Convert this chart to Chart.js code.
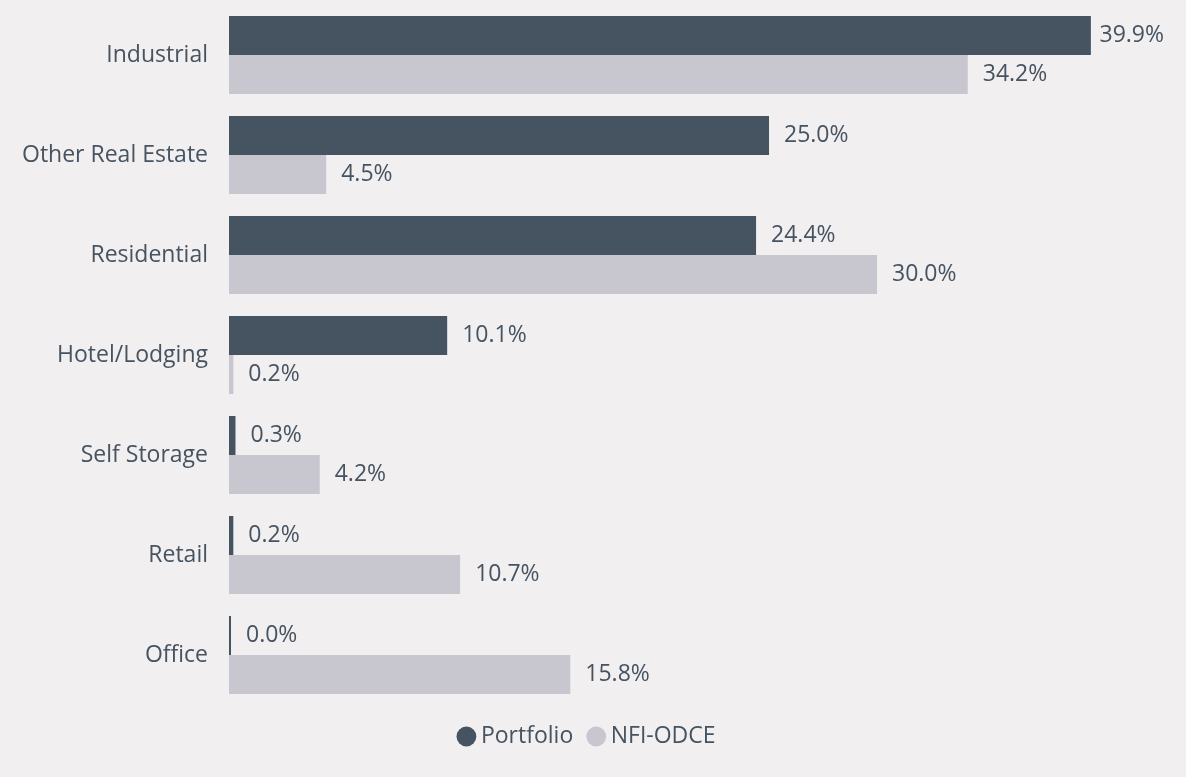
<!DOCTYPE html>
<html>
<head>
<meta charset="utf-8">
<title>Sector Allocation</title>
<script src="https://cdn.jsdelivr.net/npm/chart.js@4/dist/chart.umd.min.js"></script>
<style>
  html, body { margin: 0; padding: 0; background: #f1eff0; }
  #wrap { width: 1186px; height: 777px; position: relative; }
</style>
</head>
<body>
<div id="wrap"><canvas id="chart"></canvas></div>
<script>
// Sector weights (%)
const sectors = ['Industrial', 'Other Real Estate', 'Residential', 'Hotel/Lodging', 'Self Storage', 'Retail', 'Office'];
const portfolio = [39.9, 25.0, 24.4, 10.1, 0.3, 0.2, 0.0];
const benchmark = [34.2, 4.5, 30.0, 0.2, 4.2, 10.7, 15.8];
const seriesNames = ['Portfolio', 'NFI-ODCE'];

const DARK = '#465361';
const LIGHT = '#c8c7d0';
const TEXT = '#465361';
const FONT = "'Open Sans', 'Noto Sans', sans-serif";
const FONT_SIZE = 23;

// Writes each bar's value just past its end
const valueLabels = {
  id: 'valueLabels',
  afterDatasetsDraw(chart) {
    const ctx = chart.ctx;
    ctx.save();
    ctx.font = FONT_SIZE + 'px ' + FONT;
    ctx.fillStyle = TEXT;
    ctx.textAlign = 'left';
    ctx.textBaseline = 'middle';
    chart.data.datasets.forEach((ds, di) => {
      const meta = chart.getDatasetMeta(di);
      meta.data.forEach((bar, i) => {
        const txt = ds.data[i].toFixed(1) + '%';
        const w = ctx.measureText(txt).width;
        let x = Math.max(bar.x, bar.base) + 15;
        x = Math.min(x, chart.width - 22 - w);
        ctx.fillText(txt, x, bar.y);
      });
    });
    ctx.restore();
  }
};

new Chart(document.getElementById('chart'), {
  type: 'bar',
  data: {
    labels: sectors,
    datasets: [
      { label: seriesNames[0], data: portfolio, backgroundColor: DARK, borderWidth: 0,
        categoryPercentage: 0.78, barPercentage: 1.0, minBarLength: 2 },
      { label: seriesNames[1], data: benchmark, backgroundColor: LIGHT, borderWidth: 0,
        categoryPercentage: 0.78, barPercentage: 1.0, minBarLength: 2 }
    ]
  },
  options: {
    indexAxis: 'y',
    responsive: true,
    maintainAspectRatio: false,
    animation: false,
    events: [],
    layout: { padding: { top: 5, right: 7, bottom: 19, left: 0 } },
    scales: {
      x: { display: false, min: 0, max: 43.98 },
      y: {
        afterFit(scale) {
          scale.width = 229;
          scale.paddingTop = 0;
          scale.paddingBottom = 0;
        },
        grid: { display: false, drawTicks: false },
        border: { display: false },
        ticks: { color: TEXT, padding: 21, font: { family: FONT, size: FONT_SIZE } }
      }
    },
    plugins: {
      tooltip: { enabled: false },
      legend: {
        position: 'bottom',
        labels: {
          usePointStyle: true,
          pointStyle: 'circle',
          boxWidth: 6,
          boxHeight: 14,
          padding: 20,
          color: TEXT,
          font: { family: FONT, size: FONT_SIZE }
        }
      }
    }
  },
  plugins: [valueLabels]
});
</script>
</body>
</html>
